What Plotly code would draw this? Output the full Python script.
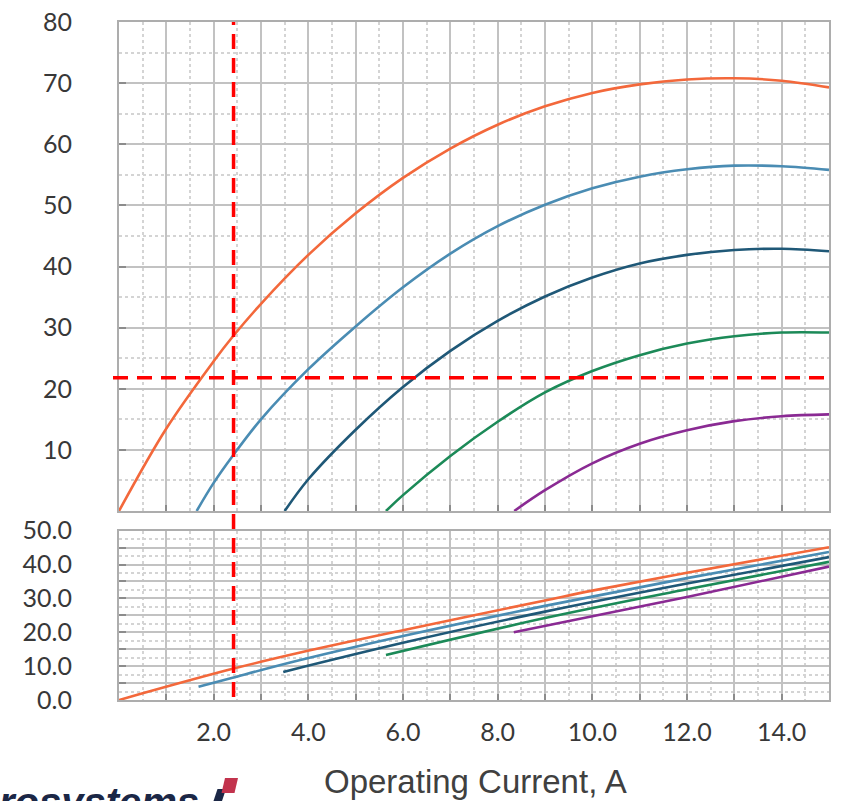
import plotly.graph_objects as go

# ---------------- data ----------------
# Upper chart (capacity vs current)
orange_x = [0, 1, 2, 2.4, 3, 4, 5, 6, 7, 8, 9, 10, 11, 12, 13, 14, 15]
orange_y = [0, 13.5, 24.5, 28.5, 33.9, 41.9, 48.7, 54.5, 59.3, 63.2, 66.2, 68.4, 69.8, 70.6, 70.8, 70.4, 69.3]

lblue_x = [1.64, 2, 2.4, 3, 4, 5, 6, 7, 8, 9, 10, 11, 12, 13, 14, 15]
lblue_y = [0, 4.6, 9.0, 15.0, 23.2, 30.2, 36.6, 42.1, 46.6, 50.1, 52.8, 54.7, 55.9, 56.5, 56.4, 55.8]

dblue_x = [3.5, 4, 5, 6, 7, 8, 9, 10, 11, 12, 13, 14, 15]
dblue_y = [0, 5.2, 13.3, 20.3, 26.2, 31.1, 35.1, 38.2, 40.5, 41.9, 42.7, 42.9, 42.5]

green_x = [5.64, 6, 7, 8, 9, 10, 11, 12, 13, 14, 15]
green_y = [0, 2.6, 9.0, 14.6, 19.4, 22.9, 25.5, 27.4, 28.6, 29.2, 29.2]

purple_x = [8.35, 9, 10, 11, 12, 13, 14, 15]
purple_y = [0, 3.4, 7.8, 11.0, 13.2, 14.7, 15.5, 15.8]

# Lower chart (voltage vs current)
v_orange_x = [0, 2.4, 3.83, 6, 9, 10, 12, 15]
v_orange_y = [0, 9.2, 14.0, 20.6, 29.4, 32.3, 37.6, 45.1]

v_lblue_x = [1.68, 2.4, 3.83, 6, 9, 12, 15]
v_lblue_y = [3.9, 6.6, 11.8, 18.9, 27.8, 36.0, 43.7]

v_dblue_x = [3.47, 6, 9, 12, 15]
v_dblue_y = [8.3, 16.9, 26.1, 34.4, 42.2]

v_green_x = [5.64, 9, 12, 15]
v_green_y = [13.3, 24.2, 32.7, 40.8]

v_purple_x = [8.34, 12, 15]
v_purple_y = [20.0, 30.4, 39.4]

# Operating point marker lines
op_current = 2.42
op_value = 21.8

# Tick labels
x_tickvals = list(range(0, 16))
x_ticktext = ["", "", "2.0", "", "4.0", "", "6.0", "", "8.0", "", "10.0", "", "12.0", "", "14.0", ""]
top_y_tickvals = [0, 10, 20, 30, 40, 50, 60, 70, 80]
top_y_ticktext = ["", "10", "20", "30", "40", "50", "60", "70", "80"]
bot_y_tickvals = [0, 5, 10, 15, 20, 25, 30, 35, 40, 45, 50]
bot_y_ticktext = ["0.0", "", "10.0", "", "20.0", "", "30.0", "", "40.0", "", "50.0"]

x_title = "Operating Current, A"
logo_text = "rosystems"

# ---------------- styling ----------------
C_ORANGE = "#F3683B"
C_LBLUE = "#4A8CB3"
C_DBLUE = "#1F5877"
C_GREEN = "#1C8A58"
C_PURPLE = "#8A2A93"
LW = 2.6

W, H = 843, 801
L, R = 119, 829
TOP_Y0, TOP_Y1 = 511, 22
BOT_Y0, BOT_Y1 = 700, 530.7

def py(p):
    return 1 - p / H

def px(p):
    return (p - L) / (R - L)

fig = go.Figure()

def add(xs, ys, color, xa, ya):
    fig.add_trace(go.Scatter(x=xs, y=ys, mode="lines", line=dict(color=color, width=LW, shape="spline"),
                             xaxis=xa, yaxis=ya, showlegend=False, hoverinfo="skip"))

for xs, ys, c in [(orange_x, orange_y, C_ORANGE), (lblue_x, lblue_y, C_LBLUE), (dblue_x, dblue_y, C_DBLUE),
                  (green_x, green_y, C_GREEN), (purple_x, purple_y, C_PURPLE)]:
    add(xs, ys, c, "x", "y")
for xs, ys, c in [(v_purple_x, v_purple_y, C_PURPLE), (v_green_x, v_green_y, C_GREEN), (v_dblue_x, v_dblue_y, C_DBLUE),
                  (v_lblue_x, v_lblue_y, C_LBLUE), (v_orange_x, v_orange_y, C_ORANGE)]:
    add(xs, ys, c, "x2", "y2")

tick_font = dict(family="Lato, 'Open Sans', sans-serif", size=25, color="#383838")
grid_major = "#C2C2C2"
grid_minor = "#D4D4D4"
line_col = "#ADADAD"

xcommon = dict(range=[0, 15], tickmode="array", tickvals=x_tickvals, showgrid=True, gridcolor=grid_major,
               gridwidth=1.8, showline=True, mirror=True, linecolor=line_col, linewidth=2,
               ticks="inside", ticklen=6, tickwidth=2, tickcolor="#8C8C8C", zeroline=False,
               minor=dict(dtick=0.5, tick0=0, showgrid=True, gridcolor=grid_minor, griddash="dot", gridwidth=1.5, ticks=""),
               fixedrange=True, automargin=False)

ycommon = dict(tickmode="array", tickfont=tick_font, ticklabelstandoff=40, showgrid=True,
               gridcolor=grid_major, gridwidth=1.8, showline=True, mirror=True, linecolor=line_col,
               linewidth=2, ticks="inside", ticklen=7, tickwidth=2, tickcolor="#8C8C8C", zeroline=False,
               automargin=False, fixedrange=True)

fig.update_layout(
    width=W, height=H,
    margin=dict(l=L, r=W - R, t=0, b=0, autoexpand=False),
    paper_bgcolor="white", plot_bgcolor="white",
    xaxis=dict(xcommon, domain=[0, 1], anchor="y", showticklabels=False, ticktext=x_ticktext),
    yaxis=dict(ycommon, domain=[py(TOP_Y0), py(TOP_Y1)], range=[0, 80],
               tickvals=top_y_tickvals, ticktext=top_y_ticktext,
               minor=dict(dtick=5, tick0=0, showgrid=True, gridcolor=grid_minor, griddash="dot", gridwidth=1.5, ticks=""),
               anchor="x"),
    xaxis2=dict(xcommon, domain=[0, 1], anchor="y2", ticktext=x_ticktext, tickfont=tick_font,
                ticklabelstandoff=9, matches="x"),
    yaxis2=dict(ycommon, domain=[py(BOT_Y0), py(BOT_Y1)], range=[0, 50],
                tickvals=bot_y_tickvals, ticktext=bot_y_ticktext,
                minor=dict(dtick=2.5, tick0=0, showgrid=True, gridcolor=grid_minor, griddash="dot", gridwidth=1.5, ticks=""),
                anchor="x2"),
)

# dashed operating-point lines
fig.add_shape(type="line", xref="x", yref="paper", x0=op_current, x1=op_current,
              y0=py(697), y1=py(TOP_Y1), line=dict(color="#FF0000", width=3.5, dash="15px,9px"), layer="above")
fig.add_shape(type="line", xref="paper", yref="y", x0=px(113), x1=1.0,
              y0=op_value, y1=op_value, line=dict(color="#FF0000", width=3.5, dash="15px,9px"), layer="above")

# axis title
fig.add_annotation(text=x_title, xref="paper", yref="paper", x=px(475), y=py(802),
                   xanchor="center", yanchor="bottom", showarrow=False,
                   font=dict(family="Liberation Sans, Arial, sans-serif", size=33, color="#404040"))

# logo fragment (cut off by the bottom edge as in the source image)
fig.add_annotation(text="<b><i>" + logo_text + "</i></b>", xref="paper", yref="paper",
                   x=px(-3), y=py(778), xanchor="left", yanchor="top", showarrow=False,
                   font=dict(family="Liberation Sans, Arial, sans-serif", size=40, color="#1B2746"))
fig.add_shape(type="path", xref="paper", yref="paper",
              path="M {x0},{y0} L {x1},{y0} L {x2},{y1} L {x3},{y1} Z".format(
                  x0=px(217.5), x1=px(226), x2=px(222), x3=px(213.5), y0=py(789), y1=py(801)),
              fillcolor="#1B2746", line=dict(width=0))
fig.add_shape(type="path", xref="paper", yref="paper",
              path="M {x0},{y0} L {x1},{y0} L {x2},{y1} L {x3},{y1} Z".format(
                  x0=px(225), x1=px(238), x2=px(234.5), x3=px(221.5), y0=py(778), y1=py(793)),
              fillcolor="#C2334D", line=dict(width=0))

fig.write_html("out.html")
